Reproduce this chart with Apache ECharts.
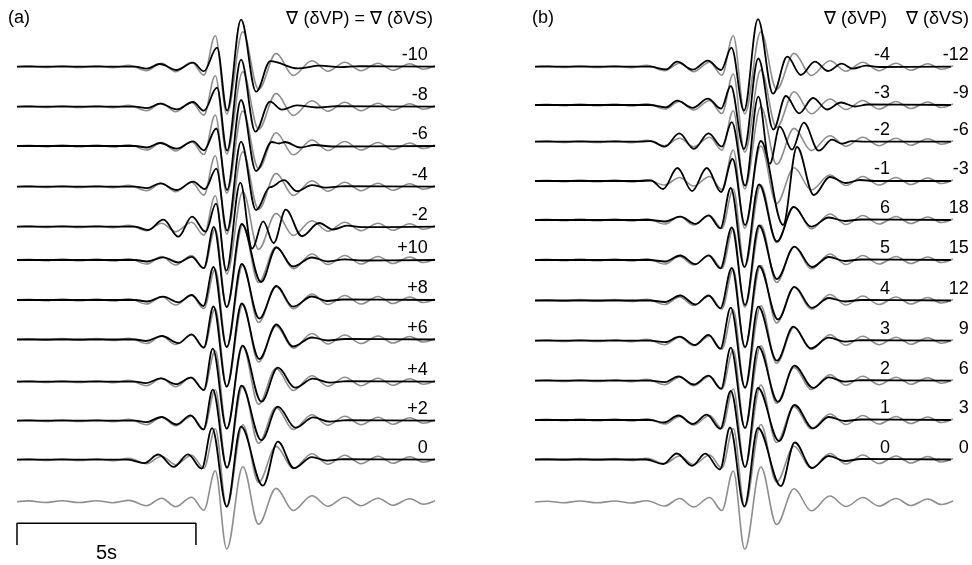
<!DOCTYPE html>
<html>
<head>
<meta charset="utf-8">
<script src="https://cdn.jsdelivr.net/npm/echarts@6/dist/echarts.min.js"></script>
<style>
html,body{margin:0;padding:0;background:#fff;}
#chart{width:972px;height:565px;}
</style>
</head>
<body>
<div id="chart"></div>
<script>
// ---- DATA: time (s) / relative amplitude ----
// reference (grey) waveform, same in every row and both panels
const GRAY_REF = [[0,0],[0.34,0.8],[0.78,-0.8],[1.26,1],[1.73,-0.8],[2.23,1],[2.68,-1],[3.13,1.3],[3.62,-4],[4.04,3.5],[4.43,-5],[4.88,4.5],[5.22,-8.5],[5.54,31],[5.86,-47.3],[6.31,35],[6.75,-22.5],[7.24,13.3],[7.72,-8.8],[8.24,6],[8.69,-4.5],[9.16,4.5],[9.61,-4],[10.09,3.5],[10.50,-3.5],[10.98,3],[11.35,-2.5],[11.68,1]];

// panel (a): grad(dVP) = grad(dVS)
const A_LABELS = ['-10','-8','-6','-4','-2','+10','+8','+6','+4','+2','0'];
const A_M10 = [[0,0],[3.30,0],[3.62,-2],[3.99,2.7],[4.46,-3.3],[4.92,4],[5.22,-4.5],[5.59,19],[5.87,-44],[6.26,47],[6.68,-25],[7.08,5.5],[7.85,-1.7],[8.46,1],[9.02,-0.5],[9.58,0.5],[11.68,0]];
const A_M8  = [[0,0],[3.30,0],[3.63,-1.5],[4.00,3],[4.46,-2.7],[4.92,4.7],[5.22,-4],[5.59,19],[5.87,-44],[6.26,47],[6.66,-25],[7.07,5],[7.40,-3],[7.82,1.3],[8.38,-0.8],[8.94,0.5],[11.68,0]];
const A_M6  = [[0,0],[3.30,0],[3.63,-1.5],[4.00,3],[4.46,-2.7],[4.92,4.7],[5.22,-4.3],[5.57,17.5],[5.87,-44],[6.26,46],[6.68,-25],[7.12,4],[7.32,2.5],[7.49,4],[7.91,-1.5],[8.32,1],[8.80,-0.5],[11.68,0]];
const A_M4  = [[0,0],[3.30,0],[3.63,-1.5],[4.00,3.3],[4.46,-3.3],[4.92,5],[5.25,-2.3],[5.57,18],[5.87,-44],[6.26,45],[6.68,-23.5],[7.07,-0.5],[7.46,6.5],[7.82,-4.5],[8.24,1.5],[8.63,-1],[9.16,0.5],[11.68,0]];
const A_M2  = [[0,0],[3.30,0],[3.66,-3.3],[4.09,7],[4.51,-10],[4.89,10],[5.27,-5],[5.56,23],[5.85,-44],[6.24,44],[6.57,-22],[6.88,5.3],[7.17,-16.3],[7.51,17],[7.96,-9.4],[8.44,3.7],[8.83,-2.8],[9.22,1],[9.64,-0.5],[11.68,0]];
const A_P10 = [[0,0],[3.30,0],[3.63,-1.5],[4.09,2.7],[4.50,-2.5],[4.88,3.2],[5.22,-8],[5.50,33],[5.86,-47],[6.28,36],[6.82,-22],[7.25,12.5],[7.71,-6.5],[8.24,2.5],[8.69,-1.5],[9.16,0.7],[9.64,-0.5],[11.68,0]];
const A_P8  = [[0,0],[3.30,0],[3.63,-1.5],[4.09,3.3],[4.51,-2.3],[4.88,5],[5.21,-6],[5.49,33],[5.86,-47],[6.28,36],[6.77,-18.5],[7.25,14],[7.71,-6.7],[8.24,3.5],[8.66,-1],[9.11,0.5],[11.68,0]];
const A_P6  = [[0,0],[3.30,0],[3.60,-1.5],[4.05,3.5],[4.51,-3.7],[4.88,5.2],[5.22,-8],[5.49,33],[5.86,-47],[6.28,36],[6.77,-19.5],[7.25,15],[7.71,-7],[8.24,2],[8.69,-1],[9.16,0.5],[11.68,0]];
const A_P4  = [[0,0],[3.30,0],[3.60,-1.5],[4.02,3.3],[4.44,-2.5],[4.86,4],[5.22,-8.3],[5.47,33],[5.86,-47],[6.30,36],[6.83,-20],[7.29,14],[7.77,-6],[8.27,3],[8.74,-1],[9.22,0.5],[11.68,0]];
const A_P2  = [[0,0],[3.30,0],[3.60,-1.5],[4.04,3.7],[4.46,-3.8],[4.85,5.3],[5.21,-8.8],[5.47,31],[5.87,-47],[6.27,35],[6.83,-19.5],[7.29,14],[7.78,-7],[8.28,3.3],[8.74,-1],[9.22,0.5],[11.68,0]];
const A_0   = [[0,0],[3.10,0],[3.55,-3.5],[3.95,5.2],[4.38,-7.2],[4.78,5.3],[5.16,-9],[5.45,31.5],[5.86,-47],[6.26,33],[6.87,-26],[7.29,18],[7.74,-8.5],[8.24,2.5],[8.66,-1],[9.11,0.5],[11.68,0]];

// panel (b): grad(dVP), grad(dVS)
const B_VP_LABELS = ['-4','-3','-2','-1','6','5','4','3','2','1','0'];
const B_VS_LABELS = ['-12','-9','-6','-3','18','15','12','9','6','3','0'];
const B_M4 = [[0,0],[3.21,0],[3.66,-2.7],[3.97,5],[4.41,-3],[4.83,6],[5.20,-3.3],[5.49,19],[5.84,-44],[6.23,47.5],[6.65,-27],[7.05,10],[7.43,-8.3],[7.82,5],[8.19,-4.3],[8.57,3],[8.88,-2],[9.25,1],[9.64,-0.3],[11.62,0]];
const B_M3 = [[0,0],[3.21,0],[3.66,-2.3],[3.97,4.3],[4.41,-2.8],[4.83,6.3],[5.20,-3.6],[5.47,19],[5.84,-44],[6.24,46.5],[6.66,-24.5],[7.01,9],[7.38,-8.3],[7.77,7],[8.16,-4.5],[8.55,2.5],[8.94,-1.5],[9.30,0.5],[11.62,0]];
const B_M2 = [[0,0],[2.93,0],[3.24,0.5],[3.63,-5],[4.03,8.3],[4.44,-7.2],[4.85,8.3],[5.22,-5],[5.50,19.5],[5.87,-44],[6.24,45],[6.56,-22],[6.84,15],[7.18,-8],[7.51,19],[7.93,-9],[8.30,2],[8.58,-2],[8.85,0.5],[9.22,0],[11.62,0]];
const B_M1 = [[0,0],[2.93,0],[3.24,0.5],[3.58,-8],[3.98,13],[4.39,-10],[4.80,13],[5.20,-11],[5.52,22],[5.87,-44],[6.31,40],[6.93,-44],[7.32,34],[7.79,-14],[8.24,4],[8.69,-2],[9.08,1],[9.50,0],[11.62,0]];
const B_P6 = [[0,0],[3.21,0],[3.63,-1.5],[4.06,3.3],[4.48,-3.8],[4.85,4.7],[5.18,-8.3],[5.47,32],[5.85,-47],[6.26,35.5],[6.76,-21.5],[7.23,13],[7.72,-6.7],[8.21,2.5],[8.66,-1],[9.11,0.5],[11.62,0]];
const B_P5 = [[0,0],[3.21,0],[3.63,-1.5],[4.06,4.5],[4.48,-4.2],[4.85,4.7],[5.18,-8.3],[5.50,32.5],[5.87,-45],[6.26,34.5],[6.76,-19],[7.25,13.3],[7.74,-7],[8.21,3],[8.66,-1],[9.11,0.5],[11.62,0]];
const B_P4 = [[0,0],[3.21,0],[3.63,-1.5],[4.06,5],[4.48,-4],[4.85,5],[5.18,-7.8],[5.50,32.5],[5.87,-46.5],[6.26,34.5],[6.79,-19],[7.25,13.7],[7.74,-7.3],[8.21,2.5],[8.66,-1],[9.11,0.5],[11.62,0]];
const B_P3 = [[0,0],[3.21,0],[3.63,-1.5],[4.04,4],[4.47,-4.3],[4.85,5.8],[5.18,-8],[5.47,33],[5.87,-47],[6.24,34],[6.76,-20],[7.22,14],[7.71,-7.6],[8.21,3],[8.66,-1],[9.11,0.5],[11.62,0]];
const B_P2 = [[0,0],[3.21,0],[3.63,-1.5],[4.01,4.3],[4.44,-3.8],[4.85,5],[5.20,-8],[5.47,33],[5.87,-47.5],[6.24,34],[6.79,-21],[7.25,15],[7.77,-7.2],[8.21,3.3],[8.66,-1],[9.11,0.5],[11.62,0]];
const B_P1 = [[0,0],[3.21,0],[3.60,-2.5],[4.01,4.5],[4.41,-4],[4.80,5.3],[5.18,-8.8],[5.47,29],[5.87,-47],[6.23,32],[6.82,-21],[7.25,15],[7.77,-8.3],[8.21,3],[8.66,-1],[9.11,0.5],[11.62,0]];
const B_0  = [[0,0],[3.10,0],[3.58,-4.5],[3.96,6],[4.39,-6.3],[4.76,5.8],[5.17,-10],[5.45,32],[5.85,-47],[6.23,31.5],[6.87,-26.5],[7.26,17],[7.74,-8.5],[8.21,3.5],[8.66,-1.5],[9.11,0.5],[11.62,0]];

const SCALE_BAR_SECONDS = 5;

// ---- LAYOUT ----
const A_TRACES = [A_M10, A_M8, A_M6, A_M4, A_M2, A_P10, A_P8, A_P6, A_P4, A_P2, A_0];
const B_TRACES = [B_M4, B_M3, B_M2, B_M1, B_P6, B_P5, B_P4, B_P3, B_P2, B_P1, B_0];
const A_BASE = [66.7, 106.7, 146, 186.7, 226.7, 260, 300, 339.5, 381.7, 420.7, 459.7];
const A_REF_BASE = 501.7;
const B_BASE = [66.7, 105, 141.7, 181, 220, 260, 300.5, 340.7, 380.7, 420, 459.5];
const B_REF_BASE = 502;

const GRAY = '#8e8e8e';
const BLACK = '#000000';
const FONT = 'Liberation Sans, Arial, sans-serif';

function place(trace, base) { return trace.map(p => [p[0], base - p[1]]); }

function waveSeries(data, gridIdx, color, width, z) {
  return {
    type: 'line', xAxisIndex: gridIdx, yAxisIndex: gridIdx,
    data: data, showSymbol: false, symbol: 'none',
    smooth: 0.36, smoothMonotone: 'x',
    lineStyle: { color: color, width: width },
    z: z, silent: true, animation: false
  };
}

const series = [];
[[A_TRACES, A_BASE, A_REF_BASE, 0], [B_TRACES, B_BASE, B_REF_BASE, 1]].forEach(([traces, bases, refBase, g]) => {
  bases.forEach(b => series.push(waveSeries(place(GRAY_REF, b), g, GRAY, 1.6, 2)));
  series.push(waveSeries(place(GRAY_REF, refBase), g, GRAY, 1.6, 2));
  traces.forEach((tr, i) => series.push(waveSeries(place(tr, bases[i]), g, BLACK, 1.8, 3)));
});

const LABEL_STYLE = { show: true, distance: 0, color: '#000', fontSize: 18, fontFamily: FONT, textBorderWidth: 0, opacity: 1 };
function labelSeries(gridIdx, pts, fontSize) {
  const st = Object.assign({}, LABEL_STYLE, fontSize ? { fontSize: fontSize } : {});
  return {
    type: 'scatter', xAxisIndex: gridIdx, yAxisIndex: gridIdx,
    symbolSize: 0, clip: false, silent: true, animation: false,
    itemStyle: { color: '#000', opacity: 1 },
    data: pts.map(p => ({ value: [p[0], p[1]], label: Object.assign({}, st, { formatter: p[2], position: p[3] || 'left' }) })),
    label: st,
    z: 5
  };
}

const LABEL_DY = 11.5;
series.push(labelSeries(0, A_LABELS.map((t, i) => [11.48, A_BASE[i] - LABEL_DY, t])));
series.push(labelSeries(1, B_VP_LABELS.map((t, i) => [9.92, B_BASE[i] - LABEL_DY, t])));
series.push(labelSeries(1, B_VS_LABELS.map((t, i) => [12.12, B_BASE[i] - LABEL_DY, t])));

// scale bar
const BAR_Y = 523.3, BAR_TICK = 545;
series.push({
  type: 'line', xAxisIndex: 0, yAxisIndex: 0, silent: true, animation: false,
  data: [[0, BAR_TICK], [0, BAR_Y], [SCALE_BAR_SECONDS, BAR_Y], [SCALE_BAR_SECONDS, BAR_TICK]],
  showSymbol: false, symbol: 'none', lineStyle: { color: BLACK, width: 1.5 }, z: 4
});
series.push(labelSeries(0, [[SCALE_BAR_SECONDS / 2, 553, SCALE_BAR_SECONDS + 's', 'inside']], 20));

const grids = [
  { left: 17, top: 0, width: 418, height: 565 },
  { left: 535, top: 0, width: 418, height: 565 }
];
const axisX = g => ({ type: 'value', gridIndex: g, min: 0, max: 11.68, show: false });
const axisY = g => ({ type: 'value', gridIndex: g, min: 0, max: 565, inverse: true, show: false });

const chart = echarts.init(document.getElementById('chart'), null, { renderer: 'canvas' });
chart.setOption({
  animation: false,
  backgroundColor: '#ffffff',
  grid: grids,
  xAxis: [axisX(0), axisX(1)],
  yAxis: [axisY(0), axisY(1)],
  series: series,
  graphic: [
    { type: 'text', left: 8, top: 9, style: { text: '(a)', font: '18px ' + FONT, fill: '#000' } },
    { type: 'text', right: 972 - 433, top: 10, style: { text: '\u2207 (\u03b4VP) = \u2207 (\u03b4VS)', font: '18px ' + FONT, fill: '#000' } },
    { type: 'text', left: 532, top: 9, style: { text: '(b)', font: '18px ' + FONT, fill: '#000' } },
    { type: 'text', left: 824, top: 10, style: { text: '\u2207 (\u03b4VP)', font: '18px ' + FONT, fill: '#000' } },
    { type: 'text', right: 3, top: 10, style: { text: '\u2207 (\u03b4VS)', font: '18px ' + FONT, fill: '#000' } }
  ]
});
</script>
</body>
</html>
